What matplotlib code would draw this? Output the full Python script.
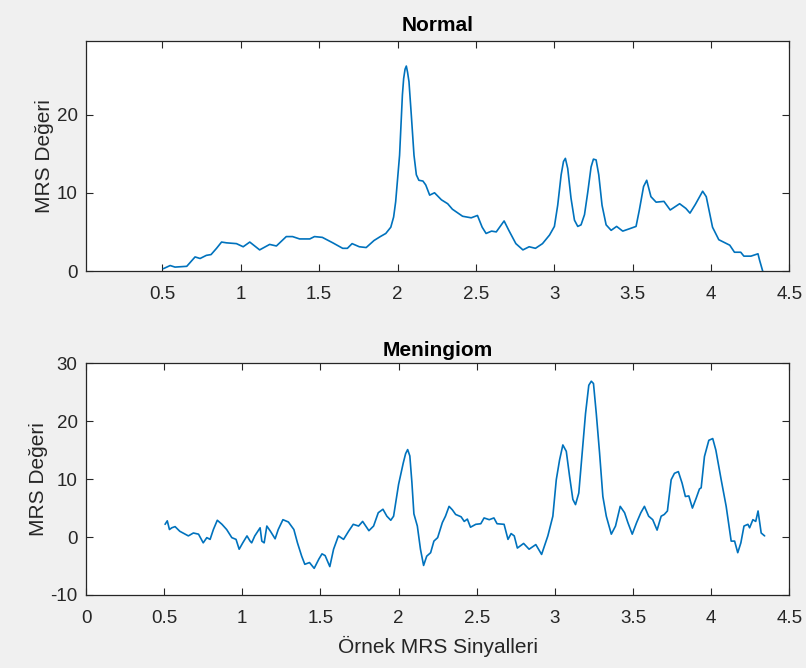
import matplotlib
matplotlib.use("Agg")
import matplotlib.pyplot as plt

plt.rcParams['font.family'] = ['Liberation Sans', 'DejaVu Sans']
plt.rcParams['axes.unicode_minus'] = False

# Normal spectrum (x, value)
normal_x = [0.506, 0.549, 0.58, 0.655, 0.708, 0.74, 0.78, 0.81, 0.845, 0.877,
            0.909, 0.972, 1.015, 1.057, 1.12, 1.184, 1.227, 1.29, 1.33, 1.375,
            1.44, 1.47, 1.52, 1.587, 1.65, 1.68, 1.71, 1.756, 1.80, 1.85,
            1.89, 1.925, 1.957, 1.975, 1.988, 2.013, 2.031, 2.039, 2.048, 2.056,
            2.064, 2.073, 2.088, 2.105, 2.12, 2.136, 2.162, 2.18, 2.205, 2.236,
            2.28, 2.32, 2.35, 2.415, 2.47,
            2.51, 2.54, 2.565, 2.6, 2.63, 2.68, 2.71, 2.755, 2.8, 2.84,
            2.88, 2.925, 2.97, 3.001, 3.022, 3.044, 3.059, 3.071, 3.086, 3.107,
            3.129, 3.15, 3.171, 3.193, 3.214, 3.235, 3.25, 3.267, 3.284, 3.305,
            3.331, 3.363, 3.398, 3.437, 3.48, 3.522, 3.543, 3.57, 3.59, 3.617,
            3.65, 3.70, 3.74, 3.80,
            3.84, 3.866, 3.90, 3.947, 3.97, 4.01, 4.05, 4.12, 4.15, 4.19,
            4.21, 4.255, 4.3, 4.31, 4.33]
normal_y = [0.3, 0.7, 0.5, 0.6, 1.8, 1.6, 2.0, 2.1, 2.9, 3.7,
            3.6, 3.5, 3.1, 3.7, 2.7, 3.4, 3.2, 4.4, 4.4, 4.1,
            4.1, 4.4, 4.3, 3.6, 2.9, 2.9, 3.5, 3.1, 3.0, 3.9,
            4.4, 4.8, 5.6, 6.9, 8.85, 14.8, 22.5, 24.6, 25.8, 26.2,
            25.4, 24.2, 19.9, 14.8, 12.3, 11.6, 11.5, 11.0, 9.7, 10.0,
            9.1, 8.6, 7.9, 7.0, 6.8,
            7.1, 5.6, 4.8, 5.1, 5.0, 6.4, 5.2, 3.5, 2.7, 3.1,
            2.9, 3.5, 4.6, 5.7, 8.4, 12.3, 14.0, 14.4, 13.1, 9.3,
            6.5, 5.7, 5.9, 7.2, 10.1, 13.3, 14.3, 14.2, 12.3, 8.4,
            5.9, 5.2, 5.7, 5.1, 5.4, 5.7, 7.8, 10.8, 11.6, 9.5,
            8.8, 8.9, 7.8, 8.6,
            8.0, 7.4, 8.5, 10.2, 9.5, 5.6, 4.0, 3.3, 2.4, 2.4,
            1.9, 1.9, 2.2, 1.4, 0.0]

# Meningioma spectrum (x, value)
men_x = [0.506, 0.52, 0.534, 0.549, 0.57, 0.60, 0.655, 0.687, 0.72, 0.75,
         0.773, 0.794, 0.815, 0.84, 0.87, 0.90, 0.933, 0.96, 0.98, 1.003,
         1.03, 1.05, 1.06, 1.08, 1.114, 1.125, 1.14, 1.157, 1.18, 1.21,
         1.23, 1.26, 1.295, 1.33, 1.353, 1.38, 1.40, 1.43, 1.46, 1.49,
         1.51, 1.53, 1.56, 1.584, 1.615, 1.648, 1.68, 1.71, 1.744, 1.77,
         1.81, 1.84, 1.87, 1.90, 1.925, 1.95, 1.968, 2.0, 2.03, 2.045,
         2.058, 2.072, 2.085, 2.098, 2.12, 2.14, 2.16, 2.18, 2.205, 2.226,
         2.25, 2.28, 2.30, 2.323, 2.344, 2.365, 2.40, 2.42, 2.44, 2.46,
         2.494, 2.526, 2.547, 2.58, 2.61, 2.63, 2.675, 2.70, 2.72, 2.74,
         2.76, 2.80, 2.835, 2.878, 2.915, 2.955, 2.987, 3.009, 3.03, 3.051,
         3.073, 3.094, 3.115, 3.132, 3.153, 3.175, 3.196, 3.217, 3.233, 3.247,
         3.265, 3.286, 3.307, 3.329, 3.361, 3.388, 3.418, 3.446, 3.467, 3.495,
         3.523, 3.55, 3.573, 3.60,
         3.626, 3.654, 3.68, 3.70, 3.72, 3.744, 3.765, 3.79, 3.814, 3.835,
         3.857, 3.88, 3.904, 3.925, 3.936, 3.957, 3.985, 4.01, 4.03, 4.064,
         4.096, 4.128, 4.15, 4.17, 4.19, 4.21, 4.235, 4.246, 4.267, 4.285,
         4.30, 4.32, 4.342]
men_y = [2.2, 2.8, 1.3, 1.6, 1.8, 1.0, 0.2, 0.7, 0.5, -1.0,
         -0.1, -0.4, 1.3, 2.9, 2.2, 1.3, -0.1, -0.4, -2.1, -1.0,
         0.2, -0.7, -1.0, 0.2, 1.6, -0.7, -1.0, 1.9, 1.0, -0.3,
         1.3, 3.0, 2.6, 1.3, -1.0, -3.3, -4.7, -4.4, -5.4, -3.8,
         -2.9, -3.2, -5.1, -2.1, 0.2, -0.4, 1.0, 2.2, 1.9, 2.7,
         1.1, 1.9, 4.2, 4.8, 3.6, 2.9, 3.6, 9.1, 12.8, 14.4,
         15.1, 14.0, 9.5, 4.0, 1.9, -2.1, -4.9, -3.3, -2.7, -0.7,
         -0.1, 2.5, 3.6, 5.3, 4.7, 3.9, 3.5, 2.7, 3.1, 1.7,
         2.2, 2.3, 3.3, 3.0, 3.3, 2.3, 2.2, -0.4, 0.6, 0.2,
         -1.9, -1.1, -2.1, -1.3, -3.0, 0.2, 3.6, 9.9, 13.3, 15.9,
         14.8, 10.5, 6.5, 5.6, 7.6, 14.5, 21.3, 26.2, 26.9, 26.5,
         21.3, 14.5, 7.0, 3.6, 0.5, 1.9, 5.3, 4.2, 2.5, 0.5,
         2.5, 4.2, 5.3, 3.6,
         3.0, 1.2, 3.6, 3.9, 4.5, 9.9, 11.0, 11.3, 9.3, 7.0,
         7.1, 5.0, 6.7, 8.3, 8.5, 13.9, 16.7, 17.0, 15.0, 9.9,
         5.3, -0.7, -0.7, -2.7, -1.0, 1.9, 2.2, 1.6, 3.0, 2.7,
         4.5, 0.7, 0.2]

top_xticks = [0.5, 1, 1.5, 2, 2.5, 3, 3.5, 4, 4.5]
top_xticklabels = ['0.5', '1', '1.5', '2', '2.5', '3', '3.5', '4', '4.5']
top_yticks = [0, 10, 20]
bot_xticks = [0, 0.5, 1, 1.5, 2, 2.5, 3, 3.5, 4, 4.5]
bot_xticklabels = ['0', '0.5', '1', '1.5', '2', '2.5', '3', '3.5', '4', '4.5']
bot_yticks = [-10, 0, 10, 20, 30]

line_color = '#0072BD'
axis_color = '#262626'
text_color = '#262626'

fig = plt.figure(figsize=(8.06, 6.68), dpi=100, facecolor='#f0f0f0')
ax1 = fig.add_axes([0.1067, 0.5943, 0.8726, 0.3443])
ax2 = fig.add_axes([0.1067, 0.1093, 0.8726, 0.3469])


def style(ax):
    ax.set_facecolor('white')
    for sp in ax.spines.values():
        sp.set_color(axis_color)
        sp.set_linewidth(0.9)
    ax.tick_params(direction='in', top=True, right=True, length=5,
                   width=0.8, color=axis_color, labelsize=13.5,
                   labelcolor=text_color)
    ax.tick_params(axis='x', pad=11)
    ax.tick_params(axis='y', pad=6)


ax1.plot(normal_x, normal_y, color=line_color, lw=1.2,
         solid_joinstyle='round', solid_capstyle='round')
ax1.set_xlim(0.012, 4.5)
ax1.set_ylim(0, 29.4)
ax1.set_xticks(top_xticks)
ax1.set_xticklabels(top_xticklabels)
ax1.set_yticks(top_yticks)
style(ax1)
ax1.set_title('Normal', fontsize=15, fontweight='bold', color='black', pad=7)
ax1.set_ylabel('MRS Değeri', fontsize=15, color=text_color, labelpad=2)

ax2.plot(men_x, men_y, color=line_color, lw=1.2,
         solid_joinstyle='round', solid_capstyle='round')
ax2.set_xlim(0, 4.5)
ax2.set_ylim(-10, 30)
ax2.set_xticks(bot_xticks)
ax2.set_xticklabels(bot_xticklabels)
ax2.set_yticks(bot_yticks)
style(ax2)
ax2.set_title('Meningiom', fontsize=15, fontweight='bold', color='black', pad=5)
ax2.set_ylabel('MRS Değeri', fontsize=15, color=text_color, labelpad=2)
ax2.set_xlabel('Örnek MRS Sinyalleri', fontsize=15, color=text_color, labelpad=6)

fig.savefig('out.png', dpi=100, facecolor=fig.get_facecolor())
